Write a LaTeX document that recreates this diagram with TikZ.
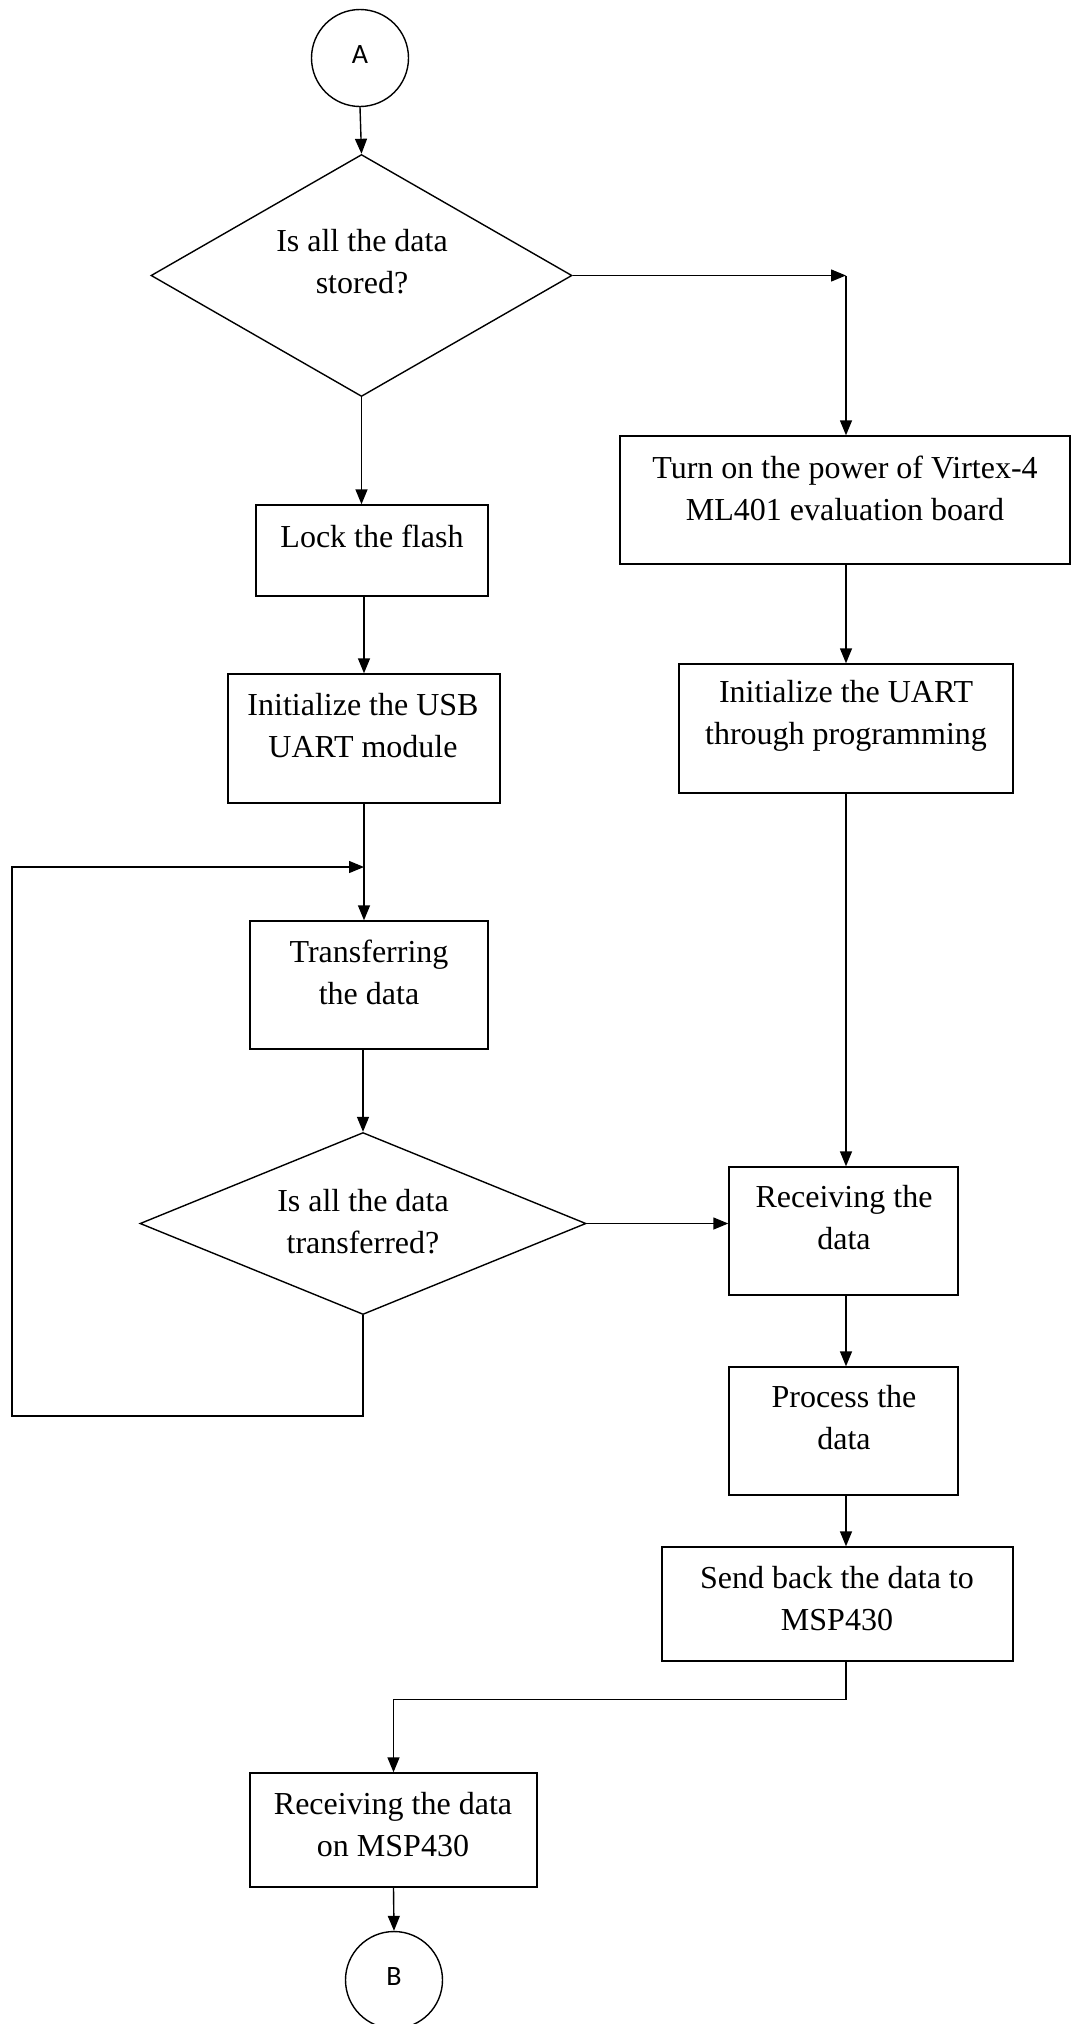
\documentclass[tikz,border=0pt]{standalone}
\usepackage{fontspec}
\setmainfont{Liberation Serif}
\newfontfamily\letterfont{Carlito}
\usetikzlibrary{shapes.geometric,arrows.meta}
\begin{document}
\begin{tikzpicture}[x=1pt,y=-1pt,
  line width=1.4pt,
  box/.style={draw,rectangle,inner sep=0pt},
  dia/.style={draw,diamond,inner sep=0pt},
  conn/.style={draw,circle,inner sep=0pt,minimum size=97pt,font=\letterfont\fontsize{28}{32}\selectfont},
  txt/.style={align=center,inner sep=0pt,font=\fontsize{32}{42}\selectfont},
  arr/.style={-{Triangle[length=15pt,width=12pt]}}]
\useasboundingbox (0,0) rectangle (1075,2024);
% nodes
\node[conn] (A) at (360,58) {\raisebox{7pt}{A}};
\node[dia,minimum width=421pt,minimum height=242pt] (d1) at (361.5,275.5) {};
\node[txt] (d1t) at (362,262) {Is all the data\\stored?};
\node[box,minimum width=232pt,minimum height=91pt] (lock) at (372,550.5) {};
\node[txt] (lockt) at (372,536) {Lock the flash};
\node[box,minimum width=272pt,minimum height=129pt] (usb) at (364,738.5) {};
\node[txt] (usbt) at (363,726) {Initialize the USB\\UART module};
\node[box,minimum width=238pt,minimum height=128pt] (trans) at (369,985) {};
\node[txt] (transt) at (369,972) {Transferring\\the data};
\node[dia,minimum width=446pt,minimum height=182pt] (d2) at (363,1223.5) {};
\node[txt] (d2t) at (363,1222) {Is all the data\\transferred?};
\node[box,minimum width=450pt,minimum height=128pt] (turn) at (845,500) {};
\node[txt] (turnt) at (845,488) {Turn on the power of Virtex-4\\ML401 evaluation board};
\node[box,minimum width=334pt,minimum height=129pt] (uart) at (846,728.5) {};
\node[txt] (uartt) at (846,716) {Initialize the UART\\through programming};
\node[box,minimum width=229pt,minimum height=128pt] (recv) at (843.5,1231) {};
\node[txt] (recvt) at (844,1218) {Receiving the\\data};
\node[box,minimum width=229pt,minimum height=128pt] (proc) at (843.5,1431) {};
\node[txt] (proct) at (844,1418) {Process the\\data};
\node[box,minimum width=351pt,minimum height=114pt] (send) at (837.5,1604) {};
\node[txt] (sendt) at (837,1599) {Send back the data to\\MSP430};
\node[box,minimum width=287pt,minimum height=114pt] (msp) at (393.5,1830) {};
\node[txt] (mspt) at (393,1825) {Receiving the data\\on MSP430};
\node[conn] (B) at (394,1980) {\raisebox{7pt}{B}};
% helper coordinates
\coordinate (rc) at (d1.east -| uart.north);
\coordinate (loopin) at (usb.south |- 0,867);
\coordinate (lbr) at (d2.south |- 0,1416);
\coordinate (lbl) at (12,1416);
\coordinate (ltl) at (12,867);
% connectors
\draw[arr] (A.south) -- (d1.north);
\draw[arr] (d1.south) -- (d1.south |- lock.north);
\draw[arr] (usb.north |- lock.south) -- (usb.north);
\draw[arr] (usb.south) -- (usb.south |- trans.north);
\draw[arr] (d2.north |- trans.south) -- (d2.north);
\draw[arr] (d1.east) -- (rc);
\draw[arr] (rc) -- (rc |- turn.north);
\draw[arr] (uart.north |- turn.south) -- (uart.north);
\draw[arr] (uart.south) -- (uart.south |- recv.north);
\draw[arr] (d2.east) -- (d2.east -| recv.west);
\draw[arr] (uart.south |- recv.south) -- (uart.south |- proc.north);
\draw[arr] (uart.south |- proc.south) -- (uart.south |- send.north);
\draw[arr] (uart.south |- send.south) -- ([yshift=-38pt]uart.south |- send.south) -| (msp.north);
\draw[arr] (msp.south) -- (B.north);
\draw[arr] (d2.south) -- (lbr) -- (lbl) -- (ltl) -- (loopin);
\end{tikzpicture}
\end{document}
